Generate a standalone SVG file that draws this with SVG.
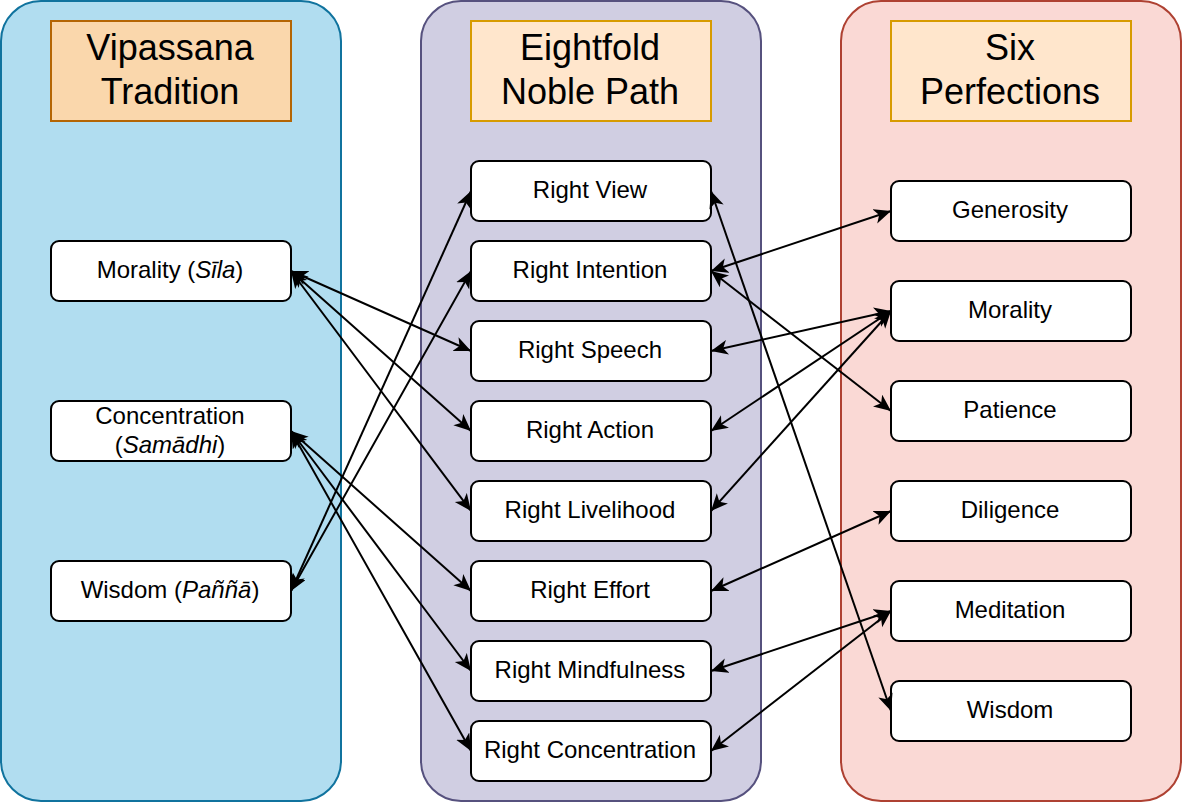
<svg xmlns="http://www.w3.org/2000/svg" width="1182" height="804" viewBox="0 0 1182 804">
<style>
text{font-family:"Liberation Sans",Arial,sans-serif;fill:#000;text-anchor:middle}
.hd{font-size:36px}
.nt{font-size:24px}
.node{fill:#fff;stroke:#000;stroke-width:2}
.edge{fill:none;stroke:#000;stroke-width:2;marker-start:url(#arr);marker-end:url(#arr)}
</style>
<defs>
<marker id="arr" markerUnits="userSpaceOnUse" markerWidth="18" markerHeight="16" refX="17" refY="7.5" orient="auto-start-reverse" viewBox="0 0 18 16">
<path d="M0,0 L17,7.5 L0,15 L4.5,7.5 Z" fill="#000"/>
</marker>
</defs>
<g id="col-vipassana">
<rect x="1" y="1" width="340" height="800" rx="40" fill="#b1ddf0" stroke="#10739e" stroke-width="2"/>
<rect x="51" y="21" width="240" height="100" fill="#fad7ac" stroke="#b46504" stroke-width="2"/>
<text class="hd" x="170" y="60">Vipassana</text>
<text class="hd" x="170" y="104">Tradition</text>
</g>
<g id="col-eightfold">
<rect x="421" y="1" width="340" height="800" rx="40" fill="#d0cee2" stroke="#56517e" stroke-width="2"/>
<rect x="471" y="21" width="240" height="100" fill="#ffe6cc" stroke="#d79b00" stroke-width="2"/>
<text class="hd" x="590" y="60">Eightfold</text>
<text class="hd" x="590" y="104">Noble Path</text>
</g>
<g id="col-six">
<rect x="841" y="1" width="340" height="800" rx="40" fill="#fad9d5" stroke="#ae4132" stroke-width="2"/>
<rect x="891" y="21" width="240" height="100" fill="#ffe6cc" stroke="#d79b00" stroke-width="2"/>
<text class="hd" x="1010" y="60">Six</text>
<text class="hd" x="1010" y="104">Perfections</text>
</g>
<g id="v-morality"><rect class="node" x="51" y="241" width="240" height="60" rx="8"/><text class="nt" x="170" y="278">Morality (<tspan font-style="italic">Sīla</tspan>)</text></g>
<g id="v-concentration"><rect class="node" x="51" y="401" width="240" height="60" rx="8"/><text class="nt" x="170" y="424">Concentration</text><text class="nt" x="170" y="453">(<tspan font-style="italic">Samādhi</tspan>)</text></g>
<g id="v-wisdom"><rect class="node" x="51" y="561" width="240" height="60" rx="8"/><text class="nt" x="170" y="598">Wisdom (<tspan font-style="italic">Paññā</tspan>)</text></g>
<g id="e-view"><rect class="node" x="471" y="161" width="240" height="60" rx="8"/><text class="nt" x="590" y="198">Right View</text></g>
<g id="e-intention"><rect class="node" x="471" y="241" width="240" height="60" rx="8"/><text class="nt" x="590" y="278">Right Intention</text></g>
<g id="e-speech"><rect class="node" x="471" y="321" width="240" height="60" rx="8"/><text class="nt" x="590" y="358">Right Speech</text></g>
<g id="e-action"><rect class="node" x="471" y="401" width="240" height="60" rx="8"/><text class="nt" x="590" y="438">Right Action</text></g>
<g id="e-livelihood"><rect class="node" x="471" y="481" width="240" height="60" rx="8"/><text class="nt" x="590" y="518">Right Livelihood</text></g>
<g id="e-effort"><rect class="node" x="471" y="561" width="240" height="60" rx="8"/><text class="nt" x="590" y="598">Right Effort</text></g>
<g id="e-mindfulness"><rect class="node" x="471" y="641" width="240" height="60" rx="8"/><text class="nt" x="590" y="678">Right Mindfulness</text></g>
<g id="e-concentration"><rect class="node" x="471" y="721" width="240" height="60" rx="8"/><text class="nt" x="590" y="758">Right Concentration</text></g>
<g id="p-generosity"><rect class="node" x="891" y="181" width="240" height="60" rx="8"/><text class="nt" x="1010" y="218">Generosity</text></g>
<g id="p-morality"><rect class="node" x="891" y="281" width="240" height="60" rx="8"/><text class="nt" x="1010" y="318">Morality</text></g>
<g id="p-patience"><rect class="node" x="891" y="381" width="240" height="60" rx="8"/><text class="nt" x="1010" y="418">Patience</text></g>
<g id="p-diligence"><rect class="node" x="891" y="481" width="240" height="60" rx="8"/><text class="nt" x="1010" y="518">Diligence</text></g>
<g id="p-meditation"><rect class="node" x="891" y="581" width="240" height="60" rx="8"/><text class="nt" x="1010" y="618">Meditation</text></g>
<g id="p-wisdom"><rect class="node" x="891" y="681" width="240" height="60" rx="8"/><text class="nt" x="1010" y="718">Wisdom</text></g>
<g id="connectors">
<line class="edge" x1="291" y1="271" x2="471" y2="351"/>
<line class="edge" x1="291" y1="271" x2="471" y2="431"/>
<line class="edge" x1="291" y1="271" x2="471" y2="511"/>
<line class="edge" x1="291" y1="431" x2="471" y2="591"/>
<line class="edge" x1="291" y1="431" x2="471" y2="671"/>
<line class="edge" x1="291" y1="431" x2="471" y2="751"/>
<line class="edge" x1="291" y1="591" x2="471" y2="191"/>
<line class="edge" x1="291" y1="591" x2="471" y2="271"/>
<line class="edge" x1="711" y1="271" x2="891" y2="211"/>
<line class="edge" x1="711" y1="271" x2="891" y2="411"/>
<line class="edge" x1="711" y1="351" x2="891" y2="311"/>
<line class="edge" x1="711" y1="431" x2="891" y2="311"/>
<line class="edge" x1="711" y1="511" x2="891" y2="311"/>
<line class="edge" x1="711" y1="591" x2="891" y2="511"/>
<line class="edge" x1="711" y1="671" x2="891" y2="611"/>
<line class="edge" x1="711" y1="751" x2="891" y2="611"/>
<line class="edge" x1="711" y1="191" x2="891" y2="711"/>
</g>
</svg>
